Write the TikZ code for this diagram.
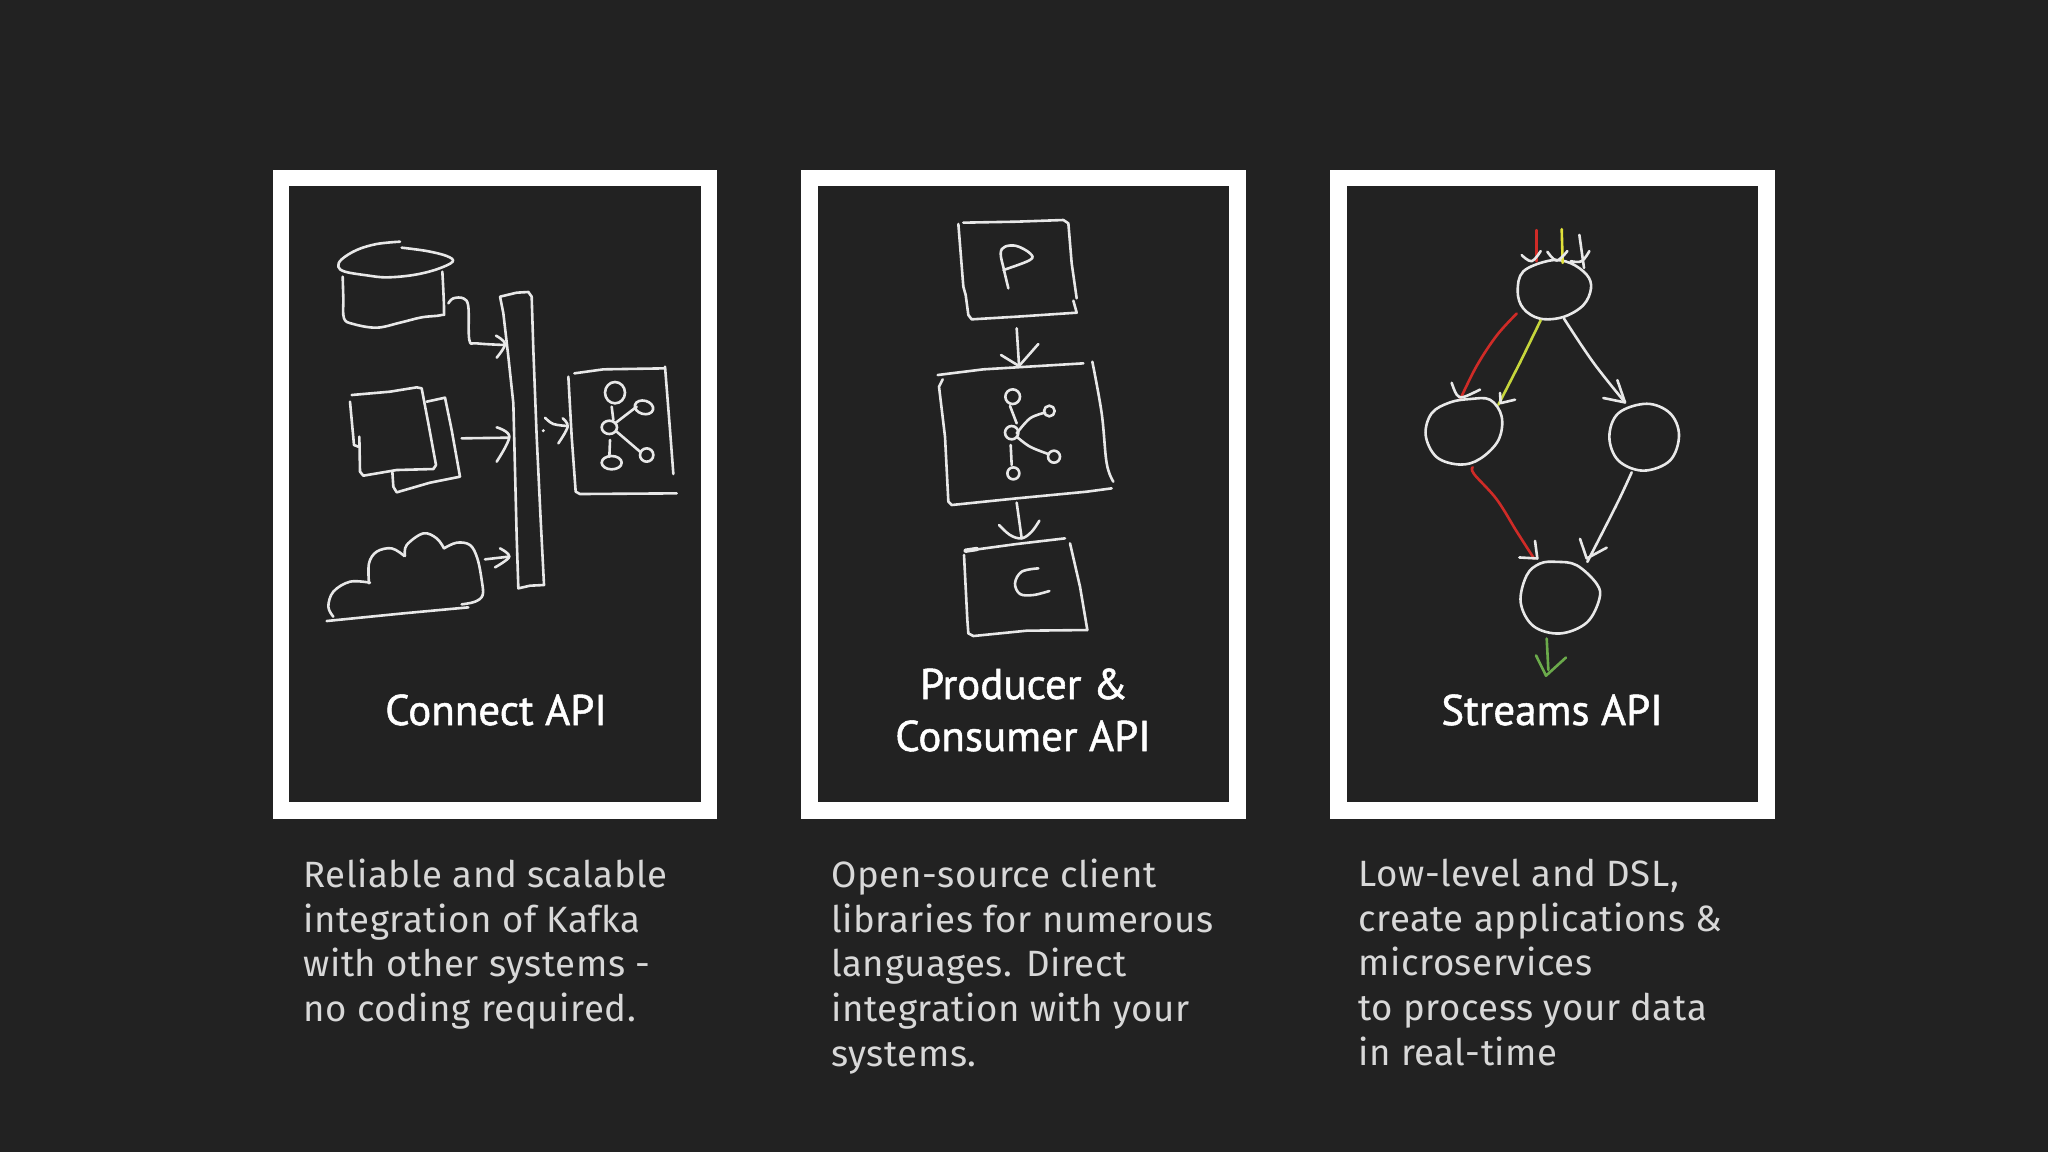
\documentclass[tikz,border=0pt]{standalone}
\usepackage{fontspec}
\newfontfamily\titlefont[FakeBold=1.2]{PT Sans}
\newfontfamily\bodyfont[LetterSpace=1.6]{Fira Sans}
\definecolor{bg}{HTML}{222222}
\definecolor{chalkw}{HTML}{E8E8E8}
\definecolor{chalkr}{HTML}{CF2B27}
\definecolor{chalky}{HTML}{E2E23A}
\definecolor{chalkl}{HTML}{C6D63C}
\definecolor{chalkg}{HTML}{6BAA4B}
\definecolor{bodyc}{HTML}{D8D8D8}
\tikzset{
 frame/.style={draw=white,line width=8.4pt,fill=bg,minimum width=214pt,minimum height=316.25pt,inner sep=0pt},
 titletext/.style={text=white,align=center,inner sep=0pt,font=\titlefont\fontsize{21.5}{26}\selectfont},
 bodytext/.style={text=bodyc,align=left,inner sep=0pt,anchor=north west,font=\bodyfont\fontsize{18.3}{22.35}\selectfont},
 chalk/.style={draw=chalkw,line width=1.3pt,line cap=round,line join=round},
 sk/.style={shift={#1},x=0.166667pt,y=-0.166667pt}
}
\newcommand{\sm}[2][chalk]{\draw[#1] plot[smooth,tension=0.6] coordinates {#2};}
\newcommand{\rnd}[2][chalk]{\draw[#1] plot[smooth cycle,tension=0.6] coordinates {#2};}
\newcommand{\poly}[2][chalk]{\draw[#1] plot coordinates {#2};}
\begin{document}
\begin{tikzpicture}[x=0.5pt,y=-0.5pt]
\fill[bg] (0,0) rectangle (2048,1152);
\useasboundingbox (0,0) rectangle (2048,1152);
\node[frame] (f1) at (495,494.25) {};
\node[frame] (f2) at (1023.8,494.25) {};
\node[frame] (f3) at (1552.5,494.25) {};
\node[titletext,anchor=base] (t1) at (496,725) {Connect API};
\node[titletext,anchor=base] (t2a) at (1024,699) {Producer \&};
\node[titletext,anchor=base] (t2b) at (1023,751) {Consumer API};
\node[titletext,anchor=base] (t3) at (1552,725) {Streams API};
\node[bodytext] (b1) at (303,858.6) {Reliable and scalable\\integration of Kafka\\with other systems -\\no coding required.};
\node[bodytext] (b2) at (831,858.6) {Open-source client\\libraries for numerous\\languages. Direct\\integration with your\\systems.};
\node[bodytext] (b3) at (1358,858.6) {Low-level and DSL,\\create applications \&\\microservices\\to process your data\\in real-time};
% Connect sketch
\begin{scope}[sk={(270,170)}]
\sm{(390,215)(320,222)(260,240)(215,268)(205,290)(225,305)(290,316)(350,322)(430,315)(500,298)(548,275)(530,258)(470,243)(395,233)}
\sm{(218,320)(220,385)(222,445)(250,462)(320,473)(390,458)(455,442)(515,435)(522,420)(517,305)}
\sm{(535,400)(550,385)(580,385)(595,410)(598,510)(620,520)(705,525)}
\sm{(678,497)(705,522)(680,563)}
\poly{(690,380)(740,368)(775,366)(785,380)(790,540)(800,800)(812,1050)(822,1245)(780,1247)(745,1255)(740,1100)(730,700)(715,560)(700,430)(690,380)}
\poly{(245,675)(360,665)(440,652)(455,655)(475,760)(498,885)(490,897)(380,900)(280,917)(270,905)(268,800)}
\poly{(240,695)(252,825)(265,830)}
\poly{(470,695)(525,683)(545,780)(570,920)(480,938)(380,967)(370,950)(367,905)}
\poly{(575,805)(715,803)}
\sm{(680,772)(718,800)(680,875)}
\poly{(170,1353)(400,1330)(595,1312)}
\sm{(190,1340)(175,1310)(190,1265)(240,1235)(300,1238)}
\sm{(297,1240)(297,1180)(320,1145)(365,1135)(403,1158)}
\sm{(405,1158)(410,1125)(460,1090)(500,1105)(522,1135)}
\sm{(522,1135)(560,1118)(600,1125)(622,1165)(635,1230)(638,1275)(615,1295)(575,1303)}
\sm{(645,1168)(715,1160)}
\sm{(690,1135)(718,1160)(675,1192)}
\fill[chalkw] (820,782) circle (5);
\sm{(825,743)(850,762)(893,768)}
\sm{(878,745)(893,770)(865,820)}
\poly{(913,610)(1000,598)(1185,595)}
\poly{(895,620)(905,800)(917,965)(930,972)(1220,970)}
\poly{(1185,590)(1200,780)(1210,912)}
\draw[chalk] (1035,668) ellipse [x radius=30,y radius=32];
\poly{(1025,710)(1030,750)}
\draw[chalk] (1018,772) ellipse [x radius=23,y radius=20];
\poly{(1035,760)(1100,710)}
\draw[chalk,rotate around={-15:(1122,712)}] (1122,712) ellipse [x radius=28,y radius=20];
\poly{(1040,785)(1110,845)}
\draw[chalk] (1130,855) ellipse [x radius=20,y radius=20];
\poly{(1020,810)(1018,860)}
\draw[chalk] (1025,878) ellipse [x radius=30,y radius=20];
\end{scope}
% Producer sketch
\begin{scope}[sk={(800,170)}]
\poly{(490,158)(650,155)(790,150)(805,160)(815,280)(830,385)}
\poly{(475,162)(490,350)(497,375)(505,435)(515,448)(650,440)(830,428)(820,392)}
\sm{(625,355)(612,300)(602,250)(615,230)(650,228)(690,250)(690,270)(610,300)}
\poly{(650,475)(657,585)}
\poly{(603,555)(657,588)(715,522)}
\poly{(413,615)(550,598)(850,580)}
\sm{(877,575)(905,730)(920,880)(940,935)}
\poly{(428,628)(417,650)(435,800)(445,995)(455,1005)(650,985)(860,965)(935,955)}
\draw[chalk] (638,680) circle (22);
\poly{(630,708)(650,760)}
\draw[chalk] (635,788) circle (20);
\sm{(650,790)(690,745)(735,728)}
\draw[chalk] (748,723) circle (16);
\sm{(650,800)(690,830)(745,852)}
\draw[chalk] (762,860) circle (18);
\poly{(632,825)(635,885)}
\draw[chalk] (640,910) circle (18);
\poly{(650,998)(665,1105)}
\sm{(597,1065)(630,1095)(665,1105)(695,1085)(718,1052)}
\poly{(495,1143)(650,1122)(795,1105)}
\draw[chalk,line width=2.2pt] (497,1142)--(530,1137);
\poly{(810,1120)(840,1250)(862,1380)}
\poly{(492,1155)(502,1350)(505,1390)(520,1398)(680,1382)(862,1380)}
\sm{(715,1195)(665,1205)(645,1240)(660,1272)(700,1275)(748,1263)}
\end{scope}
% Streams sketch
\begin{scope}[sk={(1330,170)},y=-0.1689pt]
\rnd{(660,268)(720,275)(770,310)(783,350)(760,400)(700,435)(630,440)(580,410)(563,360)(580,300)}
\poly[chalk,draw=chalkr]{(620,178)(620,270)}
\sm{(575,252)(605,270)(632,240)}
\poly[chalk,draw=chalky]{(695,175)(698,275)}
\sm{(652,242)(680,268)(712,240)}
\poly{(748,192)(762,290)}
\sm{(722,270)(755,270)(778,240)}
\sm[chalk,draw=chalkr]{(560,425)(500,490)(440,580)(390,680)}
\sm{(365,630)(380,665)(400,672)(450,650)}
\poly[chalk,draw=chalkl]{(632,445)(570,570)(505,695)}
\poly{(510,660)(512,690)(555,680)}
\sm{(702,440)(790,570)(885,688)}
\poly{(862,622)(885,688)(820,675)}
\rnd{(420,678)(480,680)(515,730)(505,800)(450,855)(390,872)(320,850)(287,785)(305,720)(360,688)}
\rnd{(950,692)(1020,720)(1047,785)(1020,860)(940,890)(865,860)(838,790)(865,720)}
\sm[chalk,draw=chalkr]{(428,880)(432,900)(500,975)(560,1070)(612,1150)}
\poly{(615,1098)(622,1150)(568,1147)}
\sm{(905,895)(860,990)(772,1160)}
\poly{(750,1092)(770,1150)(830,1118)}
\rnd{(680,1160)(740,1170)(800,1225)(808,1270)(770,1340)(690,1372)(610,1350)(572,1280)(590,1200)(630,1165)}
\poly[chalk,draw=chalkg]{(650,1387)(655,1480)}
\poly[chalk,draw=chalkg]{(618,1437)(648,1497)(708,1443)}
\end{scope}
\end{tikzpicture}
\end{document}
